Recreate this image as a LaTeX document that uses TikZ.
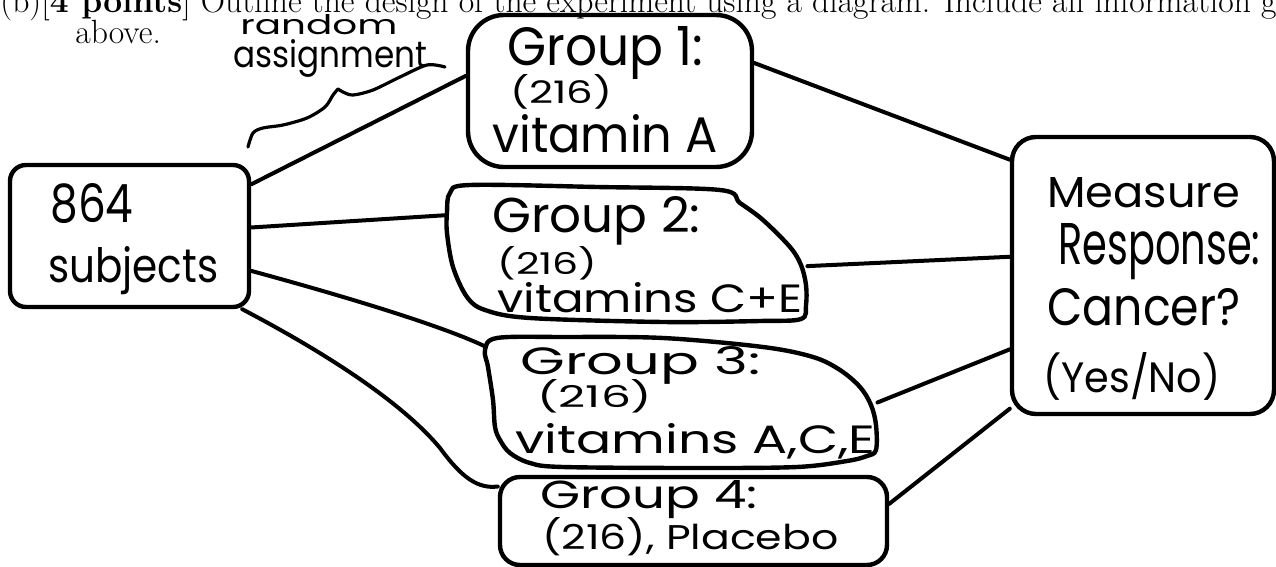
\documentclass[tikz,border=0pt]{standalone}
\usepackage{fontspec}
\usepackage{graphicx}
\newfontfamily\hand{Poppins}
\newcommand\hwtxt[3]{\resizebox{#1pt}{#2pt}{\hand #3}}
\tikzset{
  box/.style={draw, line width=2.2pt, inner sep=0pt},
  ghost/.style={inner sep=0pt},
  outline/.style={line width=2.2pt},
  link/.style={line width=2pt, line cap=round},
  bracestroke/.style={line width=1.6pt, line cap=round},
  hw/.style={inner sep=0pt, anchor=base west},
  print/.style={inner sep=0pt, anchor=base west, font=\fontsize{16.8}{20}\selectfont}
}
\begin{document}
\begin{tikzpicture}[x=0.5pt, y=-0.5pt]
\useasboundingbox (0,0) rectangle (1276,567);

% printed question text
\node[print] (title) at (0,13) {(b)[\textbf{4 points}] Outline the design of the experiment using a diagram. Include all information given};
\node[print] (above) at (75,44) {above.};

% handwritten annotation
\node[hw] (random) at (240,35) {\hwtxt{78.5}{10}{random}};
\node[hw] (assign) at (233,68) {\hwtxt{97}{14}{assignment}};
\draw[bracestroke] plot[smooth] coordinates {(248,147) (253,133) (263,128) (283,125) (307,118) (325,107) (333,95) (338,89)};
\draw[bracestroke] plot[smooth] coordinates {(338,89) (343,92) (353,95) (373,90) (400,77) (427,65) (445,67)};

% subjects
\node[box, rounded corners=8pt, minimum width=119.5pt, minimum height=71pt] (s) at (129.5,236) {};
\node[hw] (s1) at (50,222) {\hwtxt{41.5}{19.5}{864}};
\node[hw] (s2) at (48,283) {\hwtxt{85}{18}{subjects}};

% group 1
\node[box, rounded corners=18pt, minimum width=142pt, minimum height=76pt] (g1) at (610,91) {};
\node[hw] (g1a) at (507,66) {\hwtxt{98}{19.5}{Group 1:}};
\node[hw] (g1b) at (510,104) {\hwtxt{51}{14.5}{(216)}};
\node[hw] (g1c) at (492,153) {\hwtxt{112.5}{19}{vitamin A}};

% group 2
\node[ghost, minimum width=180pt, minimum height=68.5pt] (g2) at (627,253.5) {};
\draw[outline] plot[smooth cycle, tension=0.55] coordinates {(450,193) (470,185) (597,187) (720,190) (740,203) (763,220) (790,247) (801,265) (806,285) (806,305) (801,319) (760,321) (663,322) (530,318) (485,310) (467,297) (453,267) (447,233) (447,212)};
\node[hw] (g2a) at (492,233) {\hwtxt{104}{18}{Group 2:}};
\node[hw] (g2b) at (497,275) {\hwtxt{50}{14}{(216)}};
\node[hw] (g2c) at (497,313) {\hwtxt{152.5}{15}{vitamins C+E}};

% group 3
\node[ghost, minimum width=196pt, minimum height=65.5pt] (g3) at (681,402.5) {};
\draw[outline] plot[smooth cycle, tension=0.55] coordinates {(485,350) (497,338) (563,337) (663,338) (763,347) (813,357) (840,370) (860,387) (871,405) (876,425) (876,450) (867,456) (847,461) (797,467) (697,468) (563,467) (530,463) (510,453) (500,440) (495,427) (493,400) (488,367)};
\node[hw] (g3a) at (520,374) {\hwtxt{120}{14}{Group 3:}};
\node[hw] (g3b) at (537,408) {\hwtxt{57.5}{14}{(216)}};
\node[hw] (g3c) at (515,453) {\hwtxt{180}{15}{vitamins A,C,E}};

% group 4
\node[box, rounded corners=10pt, minimum width=193.5pt, minimum height=44pt] (g4) at (693.5,521) {};
\node[hw] (g4a) at (540,508) {\hwtxt{108.5}{14}{Group 4:}};
\node[hw] (g4b) at (542,549) {\hwtxt{148}{16}{(216), Placebo}};

% measure response
\node[box, rounded corners=12pt, minimum width=131pt, minimum height=138.5pt] (m) at (1143,275.5) {};
\node[hw] (m1) at (1047,207) {\hwtxt{96.5}{15}{Measure}};
\node[hw] (m2) at (1058,264) {\hwtxt{101}{20.5}{Response:}};
\node[hw] (m3) at (1047,325) {\hwtxt{96.5}{18.5}{Cancer?}};
\node[hw] (m4) at (1043,392) {\hwtxt{88.5}{20}{(Yes/No)}};

% connectors
\draw[link] (s.23.1) -- (g1.174.4);
\draw[link] (s.4.8) -- (g2.168.5);
\draw[link] (s.-16.8) .. controls (340,295) and (440,325) .. (g3.164.5);
\draw[link] (s.-33.2) .. controls (320,350) and (400,400) .. (440,448) .. controls (462,478) and (478,489) .. (g4.170.6);
\draw[link] (g1.11.2) -- (m.139.3);
\draw[link] (g2.-4.3) -- (m.172);
\draw[link] (g3.0) -- (m.209.6);
\draw[link] (g4.5.3) -- (m.225.3);
\end{tikzpicture}
\end{document}
